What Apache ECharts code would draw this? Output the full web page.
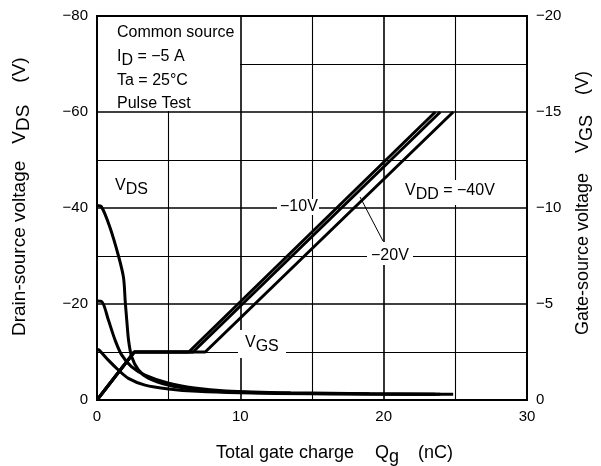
<!DOCTYPE html>
<html>
<head>
<meta charset="utf-8">
<script src="https://cdn.jsdelivr.net/npm/echarts@6/dist/echarts.min.js"></script>
<style>
  html, body { margin: 0; padding: 0; background: #fff; }
  #chart { width: 601px; height: 466px; }
</style>
</head>
<body>
<div id="chart"></div>
<script>
const FONT = '"Liberation Sans", Arial, Helvetica, sans-serif';

// Gate charge Qg (nC) vs drain-source voltage VDS (V), one curve per supply VDD
const vdsVdd40 = [[0, -40.5], [0.3, -40.3], [0.9, -36], [1.5, -30], [1.85, -25.5], [1.97, -20.5],
  [2.08, -16.5], [2.2, -12.5], [2.42, -9], [2.88, -6.3], [3.55, -4.6], [4.95, -3.1], [6.8, -2.2],
  [9, -1.7], [13.5, -1.4], [19, -1.25], [24.85, -1.2]];
const vdsVdd20 = [[0, -20.6], [0.33, -20.5], [0.79, -16.7], [1.26, -12.5], [1.72, -9.4], [2.42, -6.9],
  [3.35, -5.2], [5, -3.5], [6.8, -2.5], [9, -1.9], [13.5, -1.5], [19, -1.3], [23.95, -1.2]];
const vdsVdd10 = [[0, -10.5], [0.15, -10.4], [0.79, -8.3], [1.49, -6.25], [2.19, -4.5], [3.35, -3.1],
  [5, -2.3], [7, -1.8], [10, -1.5], [15, -1.3], [23.6, -1.2]];

// Gate charge Qg (nC) vs gate-source voltage VGS (V)
const vgsVdd10 = [[0, 0], [2.6, -2.5], [6.4, -2.5], [23.6, -15]];
const vgsVdd20 = [[0, 0], [2.6, -2.5], [6.7, -2.5], [23.95, -15]];
const vgsVdd40 = [[0, 0], [2.6, -2.5], [7.55, -2.5], [24.85, -15]];

// Axis ranges
const qgRange = [0, 30, 10];        // min, max, interval
const vdsRange = [-80, 0, 20];
const vgsRange = [-20, 0, 5];

// Leader from the "−20V" note to its curve (Qg, VDS)
const leader20 = [[19.96, -33.1], [18.35, -42.3]];

const minusFmt = v => (v < 0 ? '\u2212' + Math.abs(v) : String(v));

const chart = echarts.init(document.getElementById('chart'), null, { renderer: 'canvas' });

const measureCtx = document.createElement('canvas').getContext('2d');
function textWidth(t, size) {
  measureCtx.font = size + 'px ' + FONT;
  return measureCtx.measureText(t).width;
}

// A run of text pieces, some of them lowered as subscripts
function textRun(x, y, parts, size, rotation) {
  let off = 0;
  const children = [];
  parts.forEach(p => {
    off += p.gap || 0;
    children.push({
      type: 'text', x: off, y: p.sub ? 4 : 0, z: 100,
      style: { text: p.t, fontSize: size, fontFamily: FONT, fill: '#000', align: 'left', verticalAlign: 'middle' }
    });
    off += textWidth(p.t, size);
  });
  return { type: 'group', x: x, y: y, rotation: rotation || 0, children: children, z: 100 };
}

function whiteBox(x, y, w, h) {
  return { type: 'rect', shape: { x: x, y: y, width: w, height: h }, style: { fill: '#fff' }, z: 90 };
}

function curve(data, axis) {
  return {
    type: 'line', data: data, yAxisIndex: axis, symbol: 'none', smooth: axis === 0 ? 0.3 : false,
    lineStyle: { color: '#000', width: 3 }, silent: true
  };
}

const option = {
  animation: false,
  backgroundColor: '#fff',
  grid: { left: 97, right: 74, top: 16, bottom: 66, show: true, borderColor: '#000', borderWidth: 2, containLabel: false },
  xAxis: {
    type: 'value', min: qgRange[0], max: qgRange[1], interval: qgRange[2],
    axisLine: { show: true, lineStyle: { color: '#000', width: 2 } },
    axisTick: { show: false },
    axisLabel: { color: '#000', fontSize: 15, fontFamily: FONT, margin: 9 },
    splitLine: { show: true, lineStyle: { color: '#000', width: 1.6 } },
    minorTick: { show: false, splitNumber: 2 },
    minorSplitLine: { show: true, lineStyle: { color: '#000', width: 1.1 } }
  },
  yAxis: [
    {
      type: 'value', min: vdsRange[0], max: vdsRange[1], interval: vdsRange[2], inverse: true,
      position: 'left',
      axisLine: { show: true, lineStyle: { color: '#000', width: 2 } },
      axisTick: { show: false },
      axisLabel: { color: '#000', fontSize: 15, fontFamily: FONT, margin: 9, formatter: minusFmt },
      splitLine: { show: true, lineStyle: { color: '#000', width: 1.6 } },
      minorTick: { show: false, splitNumber: 2 },
      minorSplitLine: { show: true, lineStyle: { color: '#000', width: 1.1 } }
    },
    {
      type: 'value', min: vgsRange[0], max: vgsRange[1], interval: vgsRange[2], inverse: true,
      position: 'right',
      axisLine: { show: true, lineStyle: { color: '#000', width: 2 } },
      axisTick: { show: false },
      axisLabel: { color: '#000', fontSize: 15, fontFamily: FONT, margin: 9, formatter: minusFmt },
      splitLine: { show: false }
    }
  ],
  series: [
    curve(vdsVdd40, 0), curve(vdsVdd20, 0), curve(vdsVdd10, 0),
    curve(vgsVdd10, 1), curve(vgsVdd20, 1), curve(vgsVdd40, 1)
  ]
};
chart.setOption(option);

const p0 = chart.convertToPixel({ gridIndex: 0 }, leader20[0]);
const p1 = chart.convertToPixel({ gridIndex: 0 }, leader20[1]);

const T = 16;   // note text size
const A = 18;   // axis title size
chart.setOption({
  graphic: [
    // conditions box
    whiteBox(98, 17, 142, 94),
    textRun(117, 33, [{ t: 'Common source' }], T),
    textRun(117, 57, [{ t: 'I' }, { t: 'D', sub: true }, { t: ' = \u22125 A' }], T),
    textRun(117, 81, [{ t: 'Ta = 25\u00B0C' }], T),
    textRun(117, 104, [{ t: 'Pulse Test' }], T),
    // curve notes
    textRun(115, 186, [{ t: 'V' }, { t: 'DS', sub: true }], T),
    whiteBox(238, 330, 48, 28),
    textRun(245, 343, [{ t: 'V' }, { t: 'GS', sub: true }], T),
    whiteBox(277, 199, 42, 16),
    textRun(280, 207, [{ t: '\u221210V' }], T),
    whiteBox(367, 242, 46, 23),
    textRun(371, 256, [{ t: '\u221220V' }], T),
    whiteBox(402, 180, 94, 25),
    textRun(405, 191, [{ t: 'V' }, { t: 'DD', sub: true }, { t: ' = \u221240V' }], T),
    { type: 'line', shape: { x1: p0[0], y1: p0[1], x2: p1[0], y2: p1[1] }, style: { stroke: '#000', lineWidth: 1 }, z: 100 },
    // axis titles
    textRun(216, 453, [{ t: 'Total gate charge' }, { t: 'Q', gap: 21 }, { t: 'g', sub: true }, { t: '(nC)', gap: 19 }], A),
    textRun(20, 336, [{ t: 'Drain-source voltage' }, { t: 'V', gap: 17 }, { t: 'DS', sub: true }, { t: '(V)', gap: 22 }], 19, Math.PI / 2),
    textRun(583, 335, [{ t: 'Gate-source voltage' }, { t: 'V', gap: 20 }, { t: 'GS', sub: true }, { t: '(V)', gap: 20 }], A, Math.PI / 2)
  ]
});
</script>
</body>
</html>
